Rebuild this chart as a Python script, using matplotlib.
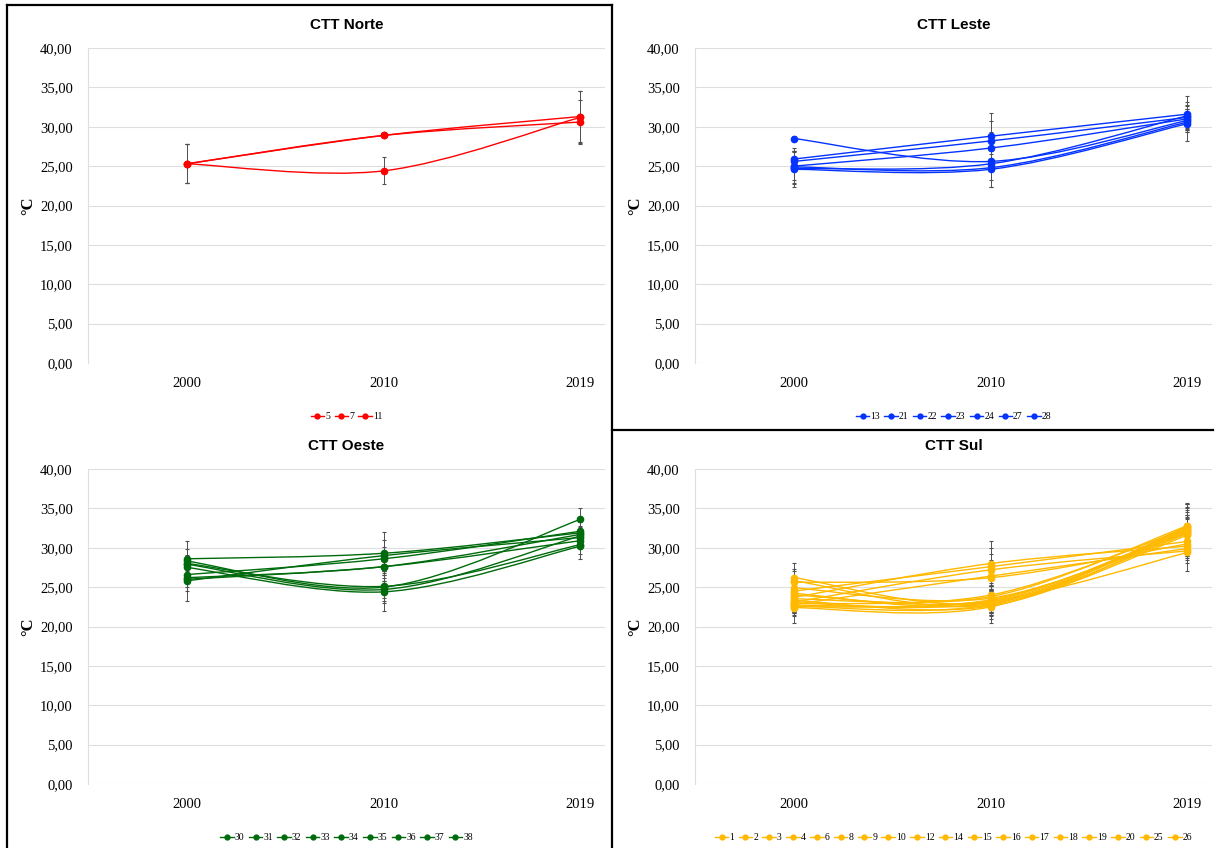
import matplotlib
import matplotlib.pyplot as plt
from matplotlib.path import Path
from matplotlib.patches import PathPatch
from matplotlib.lines import Line2D
from matplotlib.ticker import FuncFormatter

matplotlib.use("Agg")

years = ["2000", "2010", "2019"]

# CTT Norte
norte_labels = ["5", "7", "11"]
norte_values = [
    [25.3, 28.9, 31.3],
    [25.3, 28.9, 30.6],
    [25.3, 24.4, 31.2],
]
norte_errors = [
    [2.5, 0.0, 3.2],
    [2.5, 0.0, 2.8],
    [2.5, 1.7, 3.3],
]

# CTT Leste
leste_labels = ["13", "21", "22", "23", "24", "27", "28"]
leste_values = [
    [28.5, 25.6, 30.8],
    [25.9, 28.8, 31.6],
    [25.6, 28.2, 31.2],
    [25.0, 27.3, 31.0],
    [24.9, 24.8, 30.6],
    [24.7, 25.3, 31.4],
    [24.6, 24.6, 30.4],
]
leste_errors = [
    [0.3, 1.0, 1.5],
    [1.0, 2.9, 2.3],
    [1.2, 2.5, 1.5],
    [2.3, 2.0, 1.2],
    [2.0, 2.4, 1.0],
    [1.5, 2.0, 1.8],
    [2.3, 2.3, 2.2],
]

# CTT Oeste
oeste_labels = ["30", "31", "32", "33", "34", "35", "36", "37", "38"]
oeste_values = [
    [28.6, 29.3, 31.9],
    [28.3, 25.0, 33.6],
    [27.9, 24.7, 31.5],
    [27.5, 24.4, 30.2],
    [26.6, 28.6, 32.1],
    [26.2, 27.6, 31.7],
    [25.8, 29.0, 31.3],
    [28.0, 25.1, 30.4],
    [26.0, 27.6, 30.9],
]
oeste_errors = [
    [2.3, 2.7, 1.5],
    [1.5, 2.0, 1.4],
    [1.2, 1.5, 1.0],
    [1.5, 2.4, 1.6],
    [1.0, 1.5, 1.2],
    [1.2, 1.8, 1.0],
    [2.5, 2.0, 1.3],
    [1.0, 1.5, 1.2],
    [1.5, 1.8, 1.0],
]

# CTT Sul
sul_labels = ["1", "2", "3", "4", "6", "8", "9", "10", "12", "14", "15", "16",
              "17", "18", "19", "20", "25", "26"]
sul_values = [
    [26.2, 23.0, 32.6],
    [25.8, 22.7, 32.2],
    [25.6, 26.2, 30.5],
    [24.9, 23.6, 32.0],
    [24.5, 27.6, 30.8],
    [24.2, 22.9, 31.8],
    [24.0, 23.3, 32.4],
    [23.7, 28.0, 30.2],
    [23.5, 23.8, 32.8],
    [23.3, 22.6, 31.6],
    [23.1, 27.2, 29.6],
    [23.0, 23.1, 32.0],
    [22.9, 24.0, 32.5],
    [22.8, 26.4, 29.9],
    [22.7, 23.4, 31.9],
    [22.6, 22.8, 32.3],
    [22.5, 23.2, 29.4],
    [22.4, 22.5, 32.7],
]
sul_errors = [
    [1.9, 1.5, 3.0],
    [1.5, 1.8, 3.0],
    [1.5, 2.0, 1.5],
    [1.2, 1.5, 2.2],
    [1.0, 2.4, 1.8],
    [1.0, 1.2, 2.0],
    [1.2, 1.5, 2.4],
    [1.0, 2.8, 1.5],
    [1.0, 1.5, 2.8],
    [1.0, 1.2, 2.0],
    [1.2, 2.0, 1.5],
    [1.0, 1.2, 2.2],
    [1.2, 1.5, 2.5],
    [1.0, 2.0, 1.5],
    [1.0, 1.2, 2.0],
    [1.2, 1.5, 2.2],
    [1.2, 1.5, 2.4],
    [1.9, 2.1, 3.0],
]

SERIF = "Liberation Serif"


# Excel style smooth line: cubic bezier through the points
def smooth_path(xs, ys):
    pts = list(zip(xs, ys))
    verts = [pts[0]]
    codes = [Path.MOVETO]
    for i in range(len(pts) - 1):
        p0 = pts[i - 1] if i > 0 else pts[i]
        p1 = pts[i]
        p2 = pts[i + 1]
        p3 = pts[i + 2] if i + 2 < len(pts) else pts[i + 1]
        c1 = (p1[0] + (p2[0] - p0[0]) / 6, p1[1] + (p2[1] - p0[1]) / 6)
        c2 = (p2[0] - (p3[0] - p1[0]) / 6, p2[1] - (p3[1] - p1[1]) / 6)
        verts += [c1, c2, p2]
        codes += [Path.CURVE4] * 3
    return Path(verts, codes)


def draw_panel(ax, title, labels, values, errors, color):
    x = list(range(len(years)))
    handles = []
    for label, vals, errs in zip(labels, values, errors):
        ax.errorbar(x, vals, yerr=errs, fmt="none", ecolor="#505050",
                    elinewidth=0.7, capsize=1.5, capthick=0.8, zorder=1)
        ax.add_patch(PathPatch(smooth_path(x, vals), facecolor="none",
                               edgecolor=color, lw=1.0, zorder=2))
        ax.plot(x, vals, "o", ms=4.5, color=color, zorder=3)
        handles.append(Line2D([], [], color=color, marker="o", ms=3.5, lw=1,
                              label=label))

    ax.set_xlim(-0.504, 2.125)
    ax.set_ylim(0, 40)
    ax.set_yticks(range(0, 41, 5))
    ax.yaxis.set_major_formatter(
        FuncFormatter(lambda v, p: f"{v:.2f}".replace(".", ",")))
    ax.set_xticks(x)
    ax.set_xticklabels(years)
    ax.grid(axis="y", color="#DEDEDE", lw=0.8)
    ax.set_axisbelow(True)
    for side in ["top", "right", "bottom"]:
        ax.spines[side].set_visible(False)
    ax.spines["left"].set_color("#DEDEDE")
    ax.tick_params(axis="both", length=0, labelsize=10.5)
    ax.tick_params(axis="x", pad=10)
    ax.tick_params(axis="y", pad=11)
    for t in ax.get_xticklabels() + ax.get_yticklabels():
        t.set_fontfamily(SERIF)

    ax.text(0.5, 1.073, title, transform=ax.transAxes, ha="center",
            va="center", fontsize=11, fontweight="bold",
            family="Liberation Sans")
    ax.set_ylabel("°C", family=SERIF, fontsize=12, fontweight="bold")
    ax.yaxis.set_label_coords(-0.1, 0.5)

    ax.legend(handles=handles, loc="center", bbox_to_anchor=(0.5, -0.171),
              ncol=len(handles), frameon=False, handlelength=1.4,
              handletextpad=0.1, columnspacing=0.45,
              prop={"family": SERIF, "size": 7})


fig = plt.figure(figsize=(12.16, 8.48), dpi=100)
W, H = 1216, 848

panels = [
    ("CTT Norte", norte_labels, norte_values, norte_errors, "#FF0000", 88, 363),
    ("CTT Leste", leste_labels, leste_values, leste_errors, "#0433FF", 695, 363),
    ("CTT Oeste", oeste_labels, oeste_values, oeste_errors, "#006B0C", 88, 784),
    ("CTT Sul", sul_labels, sul_values, sul_errors, "#FFB900", 695, 784),
]

for title, labels, values, errors, color, left_px, bottom_px in panels:
    ax = fig.add_axes([left_px / W, (H - bottom_px) / H, 517 / W, 315 / H])
    draw_panel(ax, title, labels, values, errors, color)


# Black frame lines between the panels
def frame_line(x0, y0, x1, y1):
    fig.add_artist(Line2D([x0 / W, x1 / W], [1 - y0 / H, 1 - y1 / H],
                          color="black", lw=1.6, transform=fig.transFigure))


frame_line(7, 5, 7, 848)
frame_line(7, 5, 612, 5)
frame_line(612, 5, 612, 848)
frame_line(612, 430, 1213, 430)

fig.savefig("out.png", dpi=100)
